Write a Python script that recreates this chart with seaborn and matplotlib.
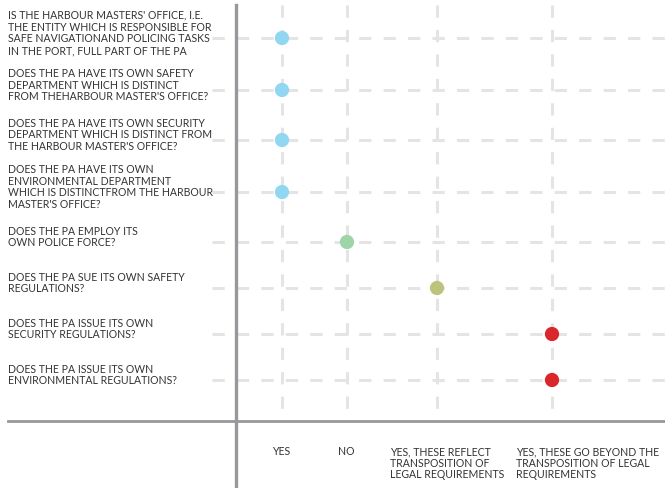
import matplotlib
matplotlib.use("Agg")
import matplotlib.pyplot as plt
import pandas as pd
import seaborn as sns

questions = [
    "IS THE HARBOUR MASTERS' OFFICE, I.E.\nTHE ENTITY WHICH IS RESPONSIBLE FOR\nSAFE NAVIGATIONAND POLICING TASKS\nIN THE PORT, FULL PART OF THE PA",
    "DOES THE PA HAVE ITS OWN SAFETY\nDEPARTMENT WHICH IS DISTINCT\nFROM THEHARBOUR MASTER'S OFFICE?",
    "DOES THE PA HAVE ITS OWN SECURITY\nDEPARTMENT WHICH IS DISTINCT FROM\nTHE HARBOUR MASTER'S OFFICE?",
    "DOES THE PA HAVE ITS OWN\nENVIRONMENTAL DEPARTMENT\nWHICH IS DISTINCTFROM THE HARBOUR\nMASTER'S OFFICE?",
    "DOES THE PA EMPLOY ITS\nOWN POLICE FORCE?",
    "DOES THE PA SUE ITS OWN SAFETY\nREGULATIONS?",
    "DOES THE PA ISSUE ITS OWN\nSECURITY REGULATIONS?",
    "DOES THE PA ISSUE ITS OWN\nENVIRONMENTAL REGULATIONS?",
]
answer_labels = [
    "YES",
    "NO",
    "YES, THESE REFLECT\nTRANSPOSITION OF\nLEGAL REQUIREMENTS",
    "YES, THESE GO BEYOND THE\nTRANSPOSITION OF LEGAL\nREQUIREMENTS",
]
answers = [0, 0, 0, 0, 1, 2, 3, 3]
colors = ["#92d7f2", "#9dd5a8", "#bdc27c", "#d9272c"]

# layout (pixel-like units, figure is 665x488)
col_x = [282, 347, 437, 552]
label_left = [272, 338, 390, 516]
row_y = [38]
for a, b in zip(questions[:-1], questions[1:]):
    row_y.append(row_y[-1] + 38 + 2 * (a.count("\n") + b.count("\n") + 2))

df = pd.DataFrame({
    "x": [col_x[a] for a in answers],
    "y": row_y,
    "answer": [str(a) for a in answers],
})

W, H = 665, 488
fig = plt.figure(figsize=(W / 100, H / 100), dpi=100)
ax = fig.add_axes([236 / W, (H - 421) / H, (W - 236) / W, (421 - 5) / H])
ax.set_xlim(236, W)
ax.set_ylim(421, 5)

grid_kw = dict(color="#e4e4e6", lw=2.2, dashes=(4, 4), zorder=1)
for x in col_x:
    ax.plot([x, x], [5, 421], **grid_kw)
for y in row_y:
    ax.plot([212, W], [y, y], clip_on=False, **grid_kw)

sns.scatterplot(data=df, x="x", y="y", hue="answer",
                palette={str(i): c for i, c in enumerate(colors)},
                s=105, edgecolor="none", legend=False, ax=ax, zorder=3)

for s in ax.spines.values():
    s.set_visible(False)
ax.set_xticks([])
ax.set_yticks([])
ax.set_xlabel("")
ax.set_ylabel("")

# axis lines
ax.plot([236, 236], [5, 488], color="#98989c", lw=2.4, clip_on=False, zorder=4)
ax.plot([8, W], [421, 421], color="#98989c", lw=2.0, clip_on=False, zorder=4)

font = "Lato"
txt = "#333333"
fs = 7.6
for q, y in zip(questions, row_y):
    ax.text(8, y - 5, q, ha="left", va="center", fontsize=fs, family=font,
            color=txt, linespacing=1.08)
for lab, x in zip(answer_labels, label_left):
    ax.text(x, 446, lab, ha="left", va="top", fontsize=fs, family=font,
            color=txt, linespacing=1.08, clip_on=False)

fig.savefig("out.png", dpi=100)
